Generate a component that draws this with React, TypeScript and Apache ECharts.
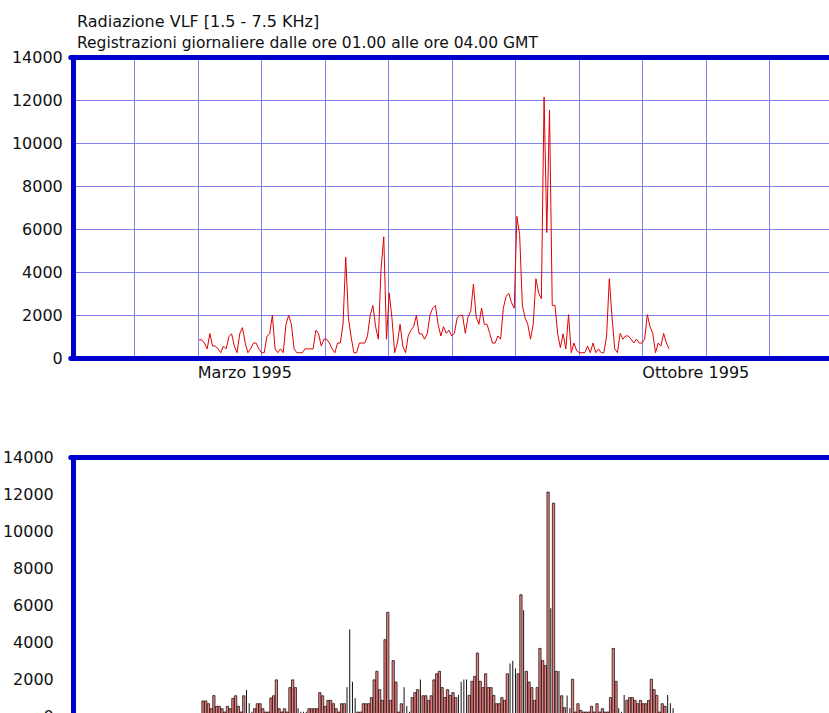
import React, { useEffect, useRef } from "react";
import * as echarts from "echarts";

const TITLE = "Radiazione VLF [1.5 - 7.5 KHz]";
const SUBTITLE = "Registrazioni giornaliere dalle ore 01.00 alle ore 04.00 GMT";
// month grid ticks (0 = January); only two carry a label
const MONTH_TICK_LABELS: Record<number, string> = { 2: "Marzo 1995", 9: "Ottobre 1995" };
const MONTH_MIN = 0;
const MONTH_MAX = 12;
const Y_MIN = 0;
const Y_MAX = 14000;
const Y_STEP = 2000;

// daily readings, in order, from early March to mid October 1995
const VALUES: number[] = [
  860, 860, 710, 440, 1150, 570, 570, 440, 260, 570,
  440, 1000, 1140, 570, 260, 1140, 1430, 710, 260, 440,
  710, 710, 440, 260, 260, 1020, 1140, 2000, 440, 260,
  440, 260, 1580, 2000, 1580, 440, 260, 260, 260, 440,
  440, 440, 440, 1310, 1140, 570, 890, 890, 710, 440,
  260, 710, 710, 1580, 4700, 1880, 980, 260, 260, 710,
  710, 710, 1040, 2000, 2460, 1470, 890, 4170, 5650, 890,
  3040, 1880, 260, 710, 1580, 570, 260, 1040, 1310, 1470,
  2000, 1140, 1140, 890, 1140, 2000, 2330, 2460, 1580, 1040,
  1470, 1160, 1310, 1040, 1160, 1880, 2000, 2000, 1160, 1920,
  2190, 3450, 1920, 1580, 2330, 1580, 1580, 1160, 710, 710,
  1040, 890, 2330, 2870, 3020, 2590, 2330, 6600, 5750, 2460,
  1880, 1580, 890, 1580, 3700, 3040, 2770, 12150, 5850, 11550,
  2460, 2460, 1140, 500, 1140, 440, 2030, 260, 710, 350,
  260, 260, 260, 570, 260, 710, 260, 440, 260, 260,
  1040, 3700, 1920, 440, 260, 1160, 890, 1040, 1040, 890,
  710, 890, 710, 710, 890, 2030, 1470, 1160, 260, 710,
  570, 1160, 710, 440,
];

// readings whose bar the original drew as a hairline
const THIN_BARS: number[] = [
  16, 17, 18, 35, 36, 37, 38, 53, 54, 55, 56, 74, 75, 76, 80, 94, 95, 96, 97,
  113, 114, 115, 118, 128, 131, 134, 135, 153, 154, 155, 171, 172, 173,
];

const FONT = "DejaVu Sans";
const BLUE = "#0000cc";
const GRID_COLOR = "#8080ec";
const TEXT = "#111";
const FIRST_SAMPLE = 2.019; // position of first reading, in months
const SAMPLE_STEP = 0.04279; // months per reading
const BAR_SHIFT = 0.063;

export default function App() {
  const ref = useRef<HTMLDivElement>(null);

  useEffect(() => {
    const chart = echarts.init(ref.current!, null, { renderer: "svg" });
    const points = VALUES.map((v, i) => [FIRST_SAMPLE + i * SAMPLE_STEP, v]);
    const thin = new Set(THIN_BARS);
    const wideBars = points
      .filter((_, i) => !thin.has(i))
      .map(([x, v]) => [x + BAR_SHIFT, v]);
    const thinBars = points
      .filter((_, i) => thin.has(i))
      .map(([x, v]) => [x + BAR_SHIFT, v]);

    const thick = { show: true, onZero: false, lineStyle: { color: BLUE, width: 5 } };
    const hiddenAxis = {
      type: "value",
      min: MONTH_MIN,
      max: MONTH_MAX,
      axisTick: { show: false },
      axisLabel: { show: false },
      splitLine: { show: false },
    };
    const plain = (v: number) => String(v);

    chart.setOption({
      animation: false,
      backgroundColor: "#fff",
      textStyle: { fontFamily: FONT },
      title: [
        {
          text: TITLE,
          left: 72,
          top: 8,
          textStyle: { fontFamily: FONT, fontSize: 16, fontWeight: "normal", color: TEXT },
        },
        {
          text: SUBTITLE,
          left: 72,
          top: 30,
          textStyle: { fontFamily: FONT, fontSize: 15.5, fontWeight: "normal", color: TEXT },
        },
      ],
      grid: [
        { left: 70.8, top: 57.3, width: 762, height: 301, outerBoundsMode: "none", containLabel: false },
        { left: 70.8, top: 457.5, width: 762, height: 259, outerBoundsMode: "none", containLabel: false },
      ],
      xAxis: [
        {
          gridIndex: 0,
          type: "value",
          position: "bottom",
          min: MONTH_MIN,
          max: MONTH_MAX,
          interval: 1,
          axisLine: thick,
          axisTick: { show: false },
          splitLine: { show: true, lineStyle: { color: GRID_COLOR, width: 1 } },
          axisLabel: {
            show: true,
            margin: 6,
            align: "left",
            fontFamily: FONT,
            fontSize: 16,
            color: TEXT,
            formatter: (v: number) => MONTH_TICK_LABELS[Math.round(v)] ?? "",
          },
        },
        { ...hiddenAxis, gridIndex: 0, position: "top", axisLine: thick },
        { ...hiddenAxis, gridIndex: 1, position: "bottom", axisLine: thick },
        { ...hiddenAxis, gridIndex: 1, position: "top", axisLine: thick },
        { ...hiddenAxis, gridIndex: 1, position: "bottom", show: false },
      ],
      yAxis: [
        {
          gridIndex: 0,
          type: "value",
          min: Y_MIN,
          max: Y_MAX,
          interval: Y_STEP,
          offset: -2,
          axisLine: thick,
          axisTick: { show: false },
          splitLine: { show: true, lineStyle: { color: GRID_COLOR, width: 1 } },
          axisLabel: { margin: 10, fontFamily: FONT, fontSize: 16, color: TEXT, formatter: plain },
        },
        {
          gridIndex: 1,
          type: "value",
          min: Y_MIN,
          max: Y_MAX,
          interval: Y_STEP,
          offset: -2,
          axisLine: thick,
          axisTick: { show: false },
          splitLine: { show: false },
          axisLabel: { margin: 19, fontFamily: FONT, fontSize: 16, color: TEXT, formatter: plain },
        },
      ],
      series: [
        {
          type: "line",
          xAxisIndex: 0,
          yAxisIndex: 0,
          data: points,
          symbol: "none",
          lineStyle: { color: "#e00000", width: 1 },
        },
        {
          type: "bar",
          xAxisIndex: 2,
          yAxisIndex: 1,
          data: wideBars,
          barWidth: 3,
          itemStyle: { color: "#f08080", borderColor: "#000", borderWidth: 0.7 },
        },
        {
          type: "bar",
          xAxisIndex: 4,
          yAxisIndex: 1,
          data: thinBars,
          barWidth: 1,
          itemStyle: { color: "#111" },
        },
      ],
    });

    return () => chart.dispose();
  }, []);

  return (
    <div
      ref={ref}
      style={{ position: "absolute", left: 0, top: 0, width: 829, height: 713 }}
    />
  );
}
